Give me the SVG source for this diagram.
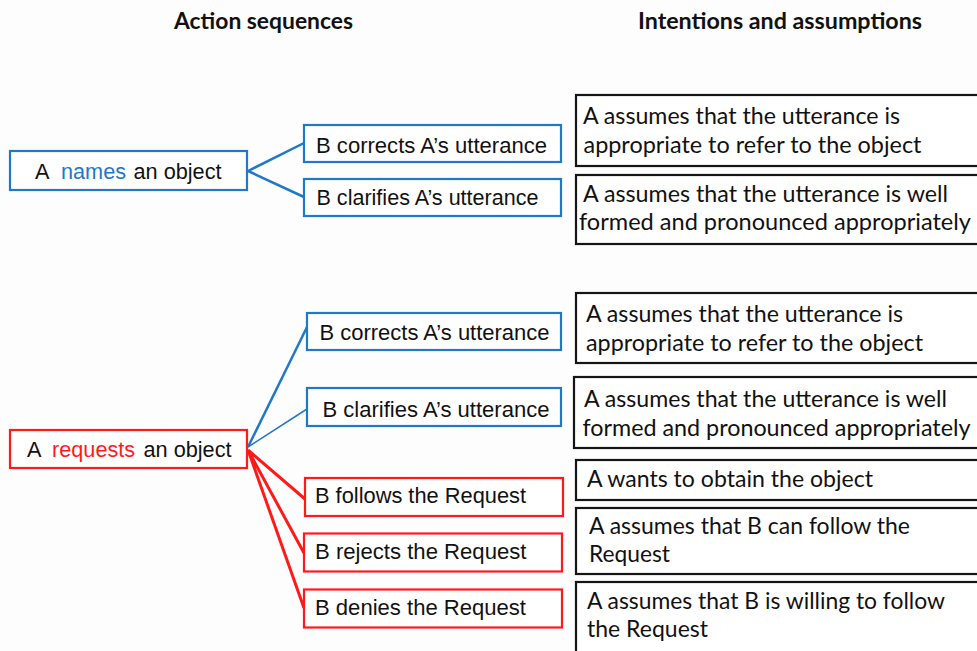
<svg xmlns="http://www.w3.org/2000/svg" width="977" height="651" viewBox="0 0 977 651">
<style>
.ar{font-family:"Liberation Sans",Arial,sans-serif;font-size:21.7px;fill:#111}
.ca{font-family:Lato,"Open Sans",sans-serif;font-size:23.5px;fill:#111}
.ti{font-family:Lato,"Open Sans",sans-serif;font-size:23.5px;font-weight:bold;fill:#111}
.bb{fill:#fff;stroke:#1f78c8;stroke-width:2.2}
.rb{fill:#fff;stroke:#ff1a1a;stroke-width:2.2}
.kb{fill:#fff;stroke:#151515;stroke-width:2.2}
.bl{stroke:#1f78c8;fill:none}
.rl{stroke:#ff1a1a;fill:none;stroke-width:3}
</style>
<rect width="977" height="651" fill="#fdfdfd"/>
<g id="titles">
<text class="ti" x="174" y="29" textLength="179" lengthAdjust="spacingAndGlyphs">Action sequences</text>
<text class="ti" x="638" y="29" textLength="284" lengthAdjust="spacingAndGlyphs">Intentions and assumptions</text>
</g>
<g id="connectors">
<path class="bl" stroke-width="2.5" d="M248,171 L304,143 M248,171 L304,197"/>
<path class="bl" stroke-width="2.5" d="M248,447 L308,325"/>
<path class="bl" stroke-width="1.5" d="M248,447 L307,409"/>
<path class="rl" d="M248,450 L305,499 M248,450 L304,553 M248,450 L304,608"/>
</g>
<g id="names">
<rect class="bb" x="10" y="151" width="237" height="39"/>
<text class="ar" y="178.5"><tspan x="35">A</tspan><tspan x="61" fill="#1f78c8">names</tspan><tspan x="133.5">an object</tspan></text>
</g>
<g id="corrects1">
<rect class="bb" x="304" y="125" width="257" height="37"/>
<text class="ar" x="316" y="152.5" textLength="231" lengthAdjust="spacingAndGlyphs">B corrects A’s utterance</text>
</g>
<g id="clarifies1">
<rect class="bb" x="304" y="179" width="257" height="37"/>
<text class="ar" x="316.5" y="205" textLength="222" lengthAdjust="spacingAndGlyphs">B clarifies A’s utterance</text>
</g>
<g id="requests">
<rect class="rb" x="10" y="430" width="237" height="38"/>
<text class="ar" y="457"><tspan x="27">A</tspan><tspan x="52" fill="#ff1a1a">requests</tspan><tspan x="143.5">an object</tspan></text>
</g>
<g id="corrects2">
<rect class="bb" x="307" y="313" width="254" height="37"/>
<text class="ar" x="319.5" y="340" textLength="230" lengthAdjust="spacingAndGlyphs">B corrects A’s utterance</text>
</g>
<g id="clarifies2">
<rect class="bb" x="307" y="388" width="254" height="38"/>
<text class="ar" x="322.5" y="416.5" textLength="227" lengthAdjust="spacingAndGlyphs">B clarifies A’s utterance</text>
</g>
<g id="follows">
<rect class="rb" x="305" y="478" width="258" height="38"/>
<text class="ar" x="315" y="503" textLength="211" lengthAdjust="spacingAndGlyphs">B follows the Request</text>
</g>
<g id="rejects">
<rect class="rb" x="304" y="533.5" width="258" height="38"/>
<text class="ar" x="315" y="558.5" textLength="211.5" lengthAdjust="spacingAndGlyphs">B rejects the Request</text>
</g>
<g id="denies">
<rect class="rb" x="304" y="589.5" width="258" height="38"/>
<text class="ar" x="315" y="615" textLength="211" lengthAdjust="spacingAndGlyphs">B denies the Request</text>
</g>
<g id="assume1">
<rect class="kb" x="576" y="95" width="414" height="71"/>
<text class="ca" x="583" y="124" textLength="317" lengthAdjust="spacingAndGlyphs">A assumes that the utterance is</text>
<text class="ca" x="583.5" y="153" textLength="338" lengthAdjust="spacingAndGlyphs">appropriate to refer to the object</text>
</g>
<g id="assume2">
<rect class="kb" x="576" y="175" width="414" height="69"/>
<text class="ca" x="583" y="202" textLength="365" lengthAdjust="spacingAndGlyphs">A assumes that the utterance is well</text>
<text class="ca" x="579" y="230" textLength="392" lengthAdjust="spacingAndGlyphs">formed and pronounced appropriately</text>
</g>
<g id="assume3">
<rect class="kb" x="576" y="293" width="414" height="70"/>
<text class="ca" x="586" y="321.5" textLength="317" lengthAdjust="spacingAndGlyphs">A assumes that the utterance is</text>
<text class="ca" x="586" y="350.5" textLength="337" lengthAdjust="spacingAndGlyphs">appropriate to refer to the object</text>
</g>
<g id="assume4">
<rect class="kb" x="574" y="377" width="416" height="71"/>
<text class="ca" x="584" y="406.5" textLength="363" lengthAdjust="spacingAndGlyphs">A assumes that the utterance is well</text>
<text class="ca" x="582.5" y="436" textLength="388" lengthAdjust="spacingAndGlyphs">formed and pronounced appropriately</text>
</g>
<g id="wants">
<rect class="kb" x="576" y="460" width="414" height="40"/>
<text class="ca" x="587" y="486.5" textLength="286" lengthAdjust="spacingAndGlyphs">A wants to obtain the object</text>
</g>
<g id="can">
<rect class="kb" x="576" y="508" width="414" height="66" stroke-width="3"/>
<text class="ca" x="589" y="533.5" textLength="321" lengthAdjust="spacingAndGlyphs">A assumes that B can follow the</text>
<text class="ca" x="589" y="562" textLength="81" lengthAdjust="spacingAndGlyphs">Request</text>
</g>
<g id="willing">
<rect class="kb" x="576" y="582" width="414" height="80"/>
<text class="ca" x="587" y="608.5" textLength="358" lengthAdjust="spacingAndGlyphs">A assumes that B is willing to follow</text>
<text class="ca" x="587" y="637" textLength="121" lengthAdjust="spacingAndGlyphs">the Request</text>
</g>
</svg>
